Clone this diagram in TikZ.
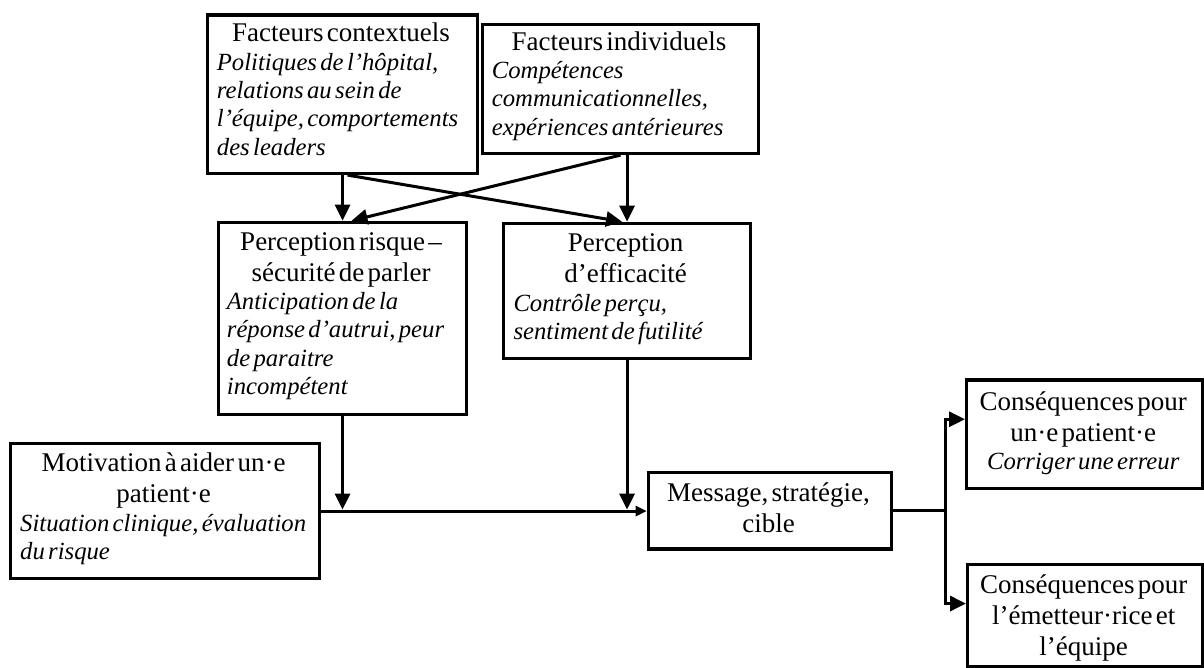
\documentclass[tikz,border=0pt]{standalone}
\usepackage{fontspec}
\setmainfont{Liberation Serif}
\usetikzlibrary{arrows.meta}
\newcommand\regtxt{\fontsize{27}{31}\selectfont\upshape}
\newcommand\ittxt{\fontsize{24.7}{28.4}\selectfont\itshape}
\begin{document}
\begin{tikzpicture}[x=1pt,y=-1pt,
  boxnode/.style={draw, line width=3.4pt, inner sep=0pt, anchor=north west},
  txt/.style={inner sep=0pt, anchor=base west, text width=#1},
  conn/.style={line width=3pt, -{Triangle[length=16pt,width=15pt]}},
  smallconn/.style={line width=3pt, -{Triangle[length=11pt,width=10pt]}},
  plain/.style={line width=3pt}]
\useasboundingbox (0,0) rectangle (1204,667);

% boxes
\node[boxnode, minimum width=269.7pt, minimum height=158.4pt] (A) at (206,13.3) {};
\node[boxnode, minimum width=276.3pt, minimum height=129pt] (B) at (480.7,22.7) {};
\node[boxnode, minimum width=248.3pt, minimum height=192.3pt] (PR) at (216.7,220.7) {};
\node[boxnode, minimum width=247.3pt, minimum height=135pt] (PE) at (501.7,221.7) {};
\node[boxnode, minimum width=308.7pt, minimum height=135.3pt] (Mot) at (9,441.7) {};
\node[boxnode, minimum width=243.3pt, minimum height=76.6pt] (Msg) at (646.7,470.7) {};
\node[boxnode, minimum width=236pt, minimum height=108.4pt] (C1) at (965,378.3) {};
\node[boxnode, minimum width=235pt, minimum height=102.3pt] (C2) at (966,562.7) {};

% texts
\node[txt=248.3pt] (At) at (216.7,41.7) {\centering\regtxt \mbox{Facteurs contextuels}\par
  \raggedright\ittxt \mbox{Politiques de l’hôpital,}\\ \mbox{relations au sein de}\\ \mbox{l’équipe, comportements}\\ \mbox{des leaders}\par};
\node[txt=254.3pt] (Bt) at (491.7,50) {\centering\regtxt \mbox{Facteurs individuels}\par
  \raggedright\ittxt \mbox{Compétences}\\ \mbox{communicationnelles,}\\ \mbox{expériences antérieures}\par};
\node[txt=228.3pt] (PRt) at (226.7,250) {\centering\regtxt \mbox{Perception risque –}\\ \mbox{sécurité de parler}\par
  \raggedright\ittxt \mbox{Anticipation de la}\\ \mbox{réponse d’autrui, peur}\\ \mbox{de paraitre}\\ \mbox{incompétent}\par};
\node[txt=224.1pt] (PEt) at (513.3,251.7) {\centering\regtxt \mbox{Perception}\\ \mbox{d’efficacité}\par
  \raggedright\ittxt \mbox{Contrôle perçu,}\\ \mbox{sentiment de futilité}\par};
\node[txt=286.7pt] (Mott) at (20,471.7) {\centering\regtxt \mbox{Motivation à aider un·e}\\ \mbox{patient·e}\par
  \raggedright\ittxt \mbox{Situation clinique, évaluation}\\ \mbox{du risque}\par};
\node[txt=223.3pt] (Msgt) at (656.7,501.7) {\centering\regtxt \mbox{Message, stratégie,}\\ \mbox{cible}\par};
\node[txt=216pt] (C1t) at (975,410) {\centering\regtxt \mbox{Conséquences pour}\\ \mbox{un·e patient·e}\par
  \ittxt \mbox{Corriger une erreur}\par};
\node[txt=215pt] (C2t) at (976,593) {\centering\regtxt \mbox{Conséquences pour}\\ \mbox{l’émetteur·rice et}\\ \mbox{l’équipe}\par};

% connectors
\draw[conn] (A.south) -- (PR.north);
\draw[conn] (PE.north |- B.south) -- (PE.north);
\draw[conn] ([xshift=5pt]A.south) -- ([xshift=-5pt]PE.north);
\draw[conn] (B.south) -- ([xshift=9pt]PR.north);
\draw[conn, shorten >=1.5pt] (PR.south) -- (PR.south |- Mot.east);
\draw[conn, shorten >=1.5pt] (PE.south) -- (PE.south |- Mot.east);
\draw[smallconn] (Mot.east) -- (Mot.east -| Msg.west);
\path (Msg.east) ++(52,0) coordinate (fork);
\draw[plain] (Msg.east) -- (fork);
\draw[conn] (fork) |- ([yshift=15pt]C1.west);
\draw[conn] (fork) |- ([yshift=12pt]C2.west);
\end{tikzpicture}
\end{document}
